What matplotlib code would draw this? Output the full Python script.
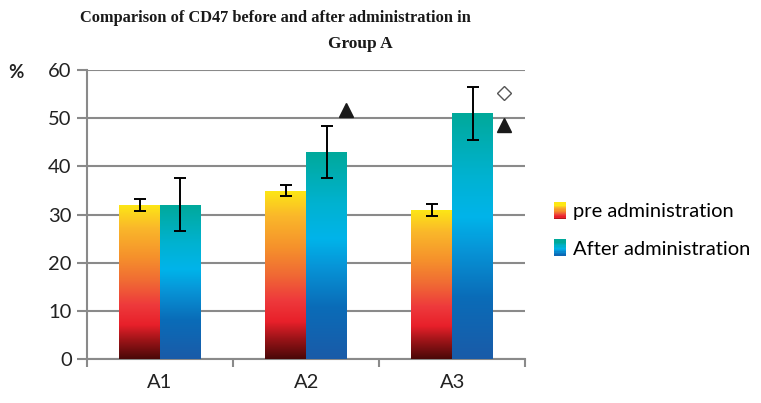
import numpy as np
import matplotlib.pyplot as plt
from matplotlib.colors import LinearSegmentedColormap
from matplotlib.legend_handler import HandlerBase
from matplotlib.patches import Rectangle

groups = ['A1', 'A2', 'A3']
pre = [32, 35, 31]
pre_err = [1.2, 1.1, 1.2]
after = [32, 43, 51]
after_err = [5.5, 5.5, 5.5]
labels = ['pre administration', 'After administration']
# significance markers: (x in category units, y, marker)
marks = [(1.274, 51.8, '^'), (2.356, 48.6, '^'), (2.356, 55.2, 'D')]

pre_cmap = LinearSegmentedColormap.from_list('pre', [
    (0.0, '#4a0808'), (0.12, '#9c1418'), (0.22, '#e8202a'), (0.35, '#ee3a3c'),
    (0.5, '#f06a34'), (0.65, '#f58f2c'), (0.85, '#fab82a'), (1.0, '#fde815')])
aft_cmap = LinearSegmentedColormap.from_list('aft', [
    (0.0, '#1a5ba8'), (0.25, '#0a6cb8'), (0.45, '#0796d8'), (0.58, '#00b4ea'),
    (0.75, '#00b2d0'), (1.0, '#00a99a')])

plt.rcParams['font.family'] = ['Lato', 'DejaVu Sans']
fig = plt.figure(figsize=(7.61, 4.03), dpi=100)
ax = fig.add_axes([0.1143, 0.109, 0.576, 0.717])

x = np.arange(len(groups))
w = 0.28
grad = np.linspace(0, 1, 256).reshape(-1, 1)
for vals, errs, off, cmap in [(pre, pre_err, -w / 2, pre_cmap), (after, after_err, w / 2, aft_cmap)]:
    bars = ax.bar(x + off, vals, w, color='none', edgecolor='none', zorder=3)
    for b in bars:
        x0, y0 = b.get_x(), b.get_y()
        im = ax.imshow(grad, cmap=cmap, origin='lower', aspect='auto',
                       extent=[x0, x0 + b.get_width(), y0, y0 + b.get_height()], zorder=3)
        im.set_clip_path(b)
    ax.errorbar(x + off, vals, yerr=errs, fmt='none', ecolor='black',
                elinewidth=1.4, capsize=4, capthick=1.4, zorder=5)

for xm, yv, m in marks:
    if m == '^':
        ax.plot(xm, yv, marker='^', color='#1a1a1a', markersize=10, zorder=6)
    else:
        ax.plot(xm, yv, marker='D', markerfacecolor='white', markeredgecolor='#555555',
                markersize=7, markeredgewidth=1.0, zorder=6)

ax.set_xlim(-0.5, 2.5)
ax.set_ylim(0, 60)
ax.set_yticks(range(0, 61, 10))
ax.yaxis.grid(True, color='#8a8a8a', linewidth=1.5)
ax.set_axisbelow(True)
ax.set_xticks([-0.5, 0.5, 1.5, 2.5])
ax.set_xticklabels([])
ax.set_xticks(x, minor=True)
ax.set_xticklabels(groups, minor=True)
ax.tick_params(axis='x', which='minor', length=0, pad=11, labelsize=14.5, colors='#222222')
ax.tick_params(axis='x', which='major', length=6, width=1.5, color='#8a8a8a')
ax.tick_params(axis='y', length=7, width=1.5, color='#8a8a8a', labelsize=14.5, labelcolor='#222222', pad=4)
for s in ['top', 'right']:
    ax.spines[s].set_visible(False)
for s in ['left', 'bottom']:
    ax.spines[s].set_color('#8a8a8a')
    ax.spines[s].set_linewidth(1.5)

fig.text(8 / 761, 1 - 73 / 403, '%', fontsize=13.5, fontweight='bold', color='#222222', va='center')
fig.text(275 / 761, 1 - 18 / 403, 'Comparison of CD47 before and after administration in',
         family='Liberation Serif', fontweight='bold', fontsize=11.8, ha='center', va='center', color='#1a1a1a')
fig.text(360 / 761, 1 - 44 / 403, 'Group A',
         family='Liberation Serif', fontweight='bold', fontsize=12.5, ha='center', va='center', color='#1a1a1a')


class GradHandler(HandlerBase):
    def __init__(self, cmap):
        super().__init__()
        self.cmap = cmap

    def create_artists(self, legend, orig, xd, yd, width, height, fontsize, trans):
        n = 12
        arts = []
        for i in range(n):
            arts.append(Rectangle((xd + width - 9, yd + height * i / n - 1), 9, height / n + 2.2,
                                  facecolor=self.cmap(0.15 + 0.85 * i / (n - 1)),
                                  edgecolor='none', transform=trans))
        return arts


h1 = Rectangle((0, 0), 1, 1)
h2 = Rectangle((0, 0), 1, 1)
ax.legend([h1, h2], labels, loc='center left', bbox_to_anchor=(1.02, 0.445), frameon=False,
          fontsize=14.5, handlelength=0.7, handletextpad=0.35, labelspacing=1.0,
          handler_map={h1: GradHandler(pre_cmap), h2: GradHandler(aft_cmap)})

fig.savefig('out.png', dpi=100)
